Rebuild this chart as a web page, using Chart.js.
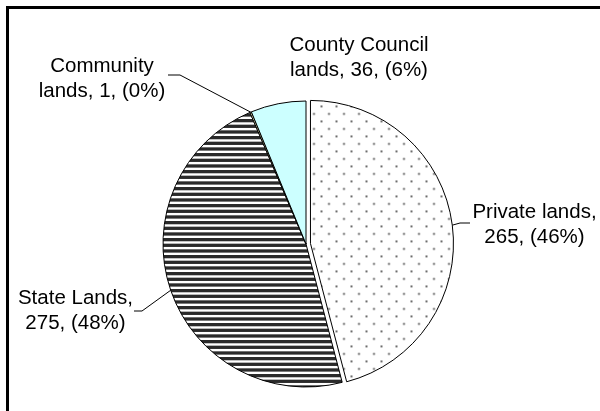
<!DOCTYPE html>
<html>
<head>
<meta charset="utf-8">
<script src="https://cdn.jsdelivr.net/npm/chart.js@4.4.0/dist/chart.umd.min.js"></script>
<style>
  html, body { margin: 0; padding: 0; background: #fff; }
  canvas { display: block; }
</style>
</head>
<body>
<canvas id="landChart" width="600" height="411"></canvas>
<script>
// ---- data ----
const categories = ['Private lands', 'State Lands', 'Community lands', 'County Council lands'];
const values = [265, 275, 1, 36];

// ---- look ----
const explodePx = 4.5;
const labelFont = '20.5px "Liberation Sans", Arial, sans-serif';
const labelWrap = 148;
const lineGap = 24.7;

// label anchor (centre x, first baseline) and leader path, per slice
const labelLayout = [
    { x: 534.5, y: 218, leader: [[460, 223], [470, 223]] },
    { x: 75.5, y: 304, leader: [[142, 311], [134, 311]] },
    { x: 102, y: 72, leader: [[180, 75], [168, 75]] },
    { x: 359, y: 51, leader: null }
];

function dotPattern() {
    const c = document.createElement('canvas');
    c.width = 15; c.height = 15;
    const g = c.getContext('2d');
    g.fillStyle = '#fff';
    g.fillRect(0, 0, 15, 15);
    g.fillStyle = '#3c3c3c';
    [[2, 2], [9.5, 9.5]].forEach(([x, y]) => {
        g.beginPath();
        g.arc(x, y, 1.0, 0, Math.PI * 2);
        g.fill();
    });
    return g.createPattern(c, 'repeat');
}

function stripePattern() {
    const c = document.createElement('canvas');
    c.width = 4; c.height = 17;
    const g = c.getContext('2d');
    g.fillStyle = '#fff';
    g.fillRect(0, 0, 4, 17);
    g.fillStyle = '#2a2a2a';
    for (let k = 0; k < 3; k++) {
        g.fillRect(0, k * 17 / 3, 4, (17 / 3) * 0.58);
    }
    return g.createPattern(c, 'repeat');
}

function wrapText(ctx, text, maxWidth) {
    const words = text.split(' ');
    const lines = [];
    let line = '';
    words.forEach(w => {
        const test = line ? line + ' ' + w : w;
        if (line && ctx.measureText(test).width > maxWidth) {
            lines.push(line);
            line = w;
        } else {
            line = test;
        }
    });
    if (line) lines.push(line);
    return lines;
}

// white page + the black frame (right/bottom edges run off the picture)
const framePlugin = {
    id: 'frame',
    beforeDraw(chart) {
        const c = chart.ctx;
        c.save();
        c.fillStyle = '#fff';
        c.fillRect(0, 0, chart.width, chart.height);
        c.fillStyle = '#000';
        c.fillRect(6, 6, chart.width, 3);
        c.fillRect(6, 6, 3, chart.height);
        c.restore();
    }
};

// pull the first slice out a little without growing it
const explodePlugin = {
    id: 'explode',
    afterUpdate(chart) {
        const arc = chart.getDatasetMeta(0).data[0];
        if (!arc || arc._exploded) return;
        const baseDraw = arc.draw.bind(arc);
        arc.draw = function (c) {
            const mid = (this.startAngle + this.endAngle) / 2;
            c.save();
            c.translate(Math.cos(mid) * explodePx, Math.sin(mid) * explodePx);
            baseDraw(c);
            c.restore();
        };
        arc._exploded = true;
    }
};

const labelPlugin = {
    id: 'sliceLabels',
    afterDraw(chart) {
        const c = chart.ctx;
        const meta = chart.getDatasetMeta(0);
        const total = values.reduce((a, b) => a + b, 0);
        c.save();
        c.font = labelFont;
        c.fillStyle = '#000';
        c.strokeStyle = '#000';
        c.lineWidth = 1;
        c.textAlign = 'center';
        c.textBaseline = 'alphabetic';
        meta.data.forEach((arc, i) => {
            const lay = labelLayout[i];
            const pct = Math.round(values[i] / total * 100);
            const text = categories[i] + ', ' + values[i] + ', (' + pct + '%)';
            wrapText(c, text, labelWrap).forEach((ln, k) => {
                c.fillText(ln, lay.x, lay.y + k * lineGap);
            });
            if (lay.leader) {
                const mid = (arc.startAngle + arc.endAngle) / 2;
                const r = arc.outerRadius + (i === 0 ? explodePx : 0);
                c.beginPath();
                c.moveTo(arc.x + Math.cos(mid) * r, arc.y + Math.sin(mid) * r);
                lay.leader.forEach(p => c.lineTo(p[0], p[1]));
                c.stroke();
            }
        });
        c.restore();
    }
};

const ctx = document.getElementById('landChart');
new Chart(ctx, {
    type: 'pie',
    data: {
        labels: categories,
        datasets: [{
            data: values,
            backgroundColor: [dotPattern(), stripePattern(), '#FFFFCC', '#CCFFFF'],
            borderColor: '#000',
            borderWidth: 1,
            radius: 143
        }]
    },
    options: {
        responsive: false,
        animation: false,
        events: [],
        layout: {
            padding: { left: 12, right: 0, top: 77, bottom: 0 }
        },
        plugins: {
            legend: { display: false },
            tooltip: { enabled: false }
        }
    },
    plugins: [framePlugin, explodePlugin, labelPlugin]
});
</script>
</body>
</html>
